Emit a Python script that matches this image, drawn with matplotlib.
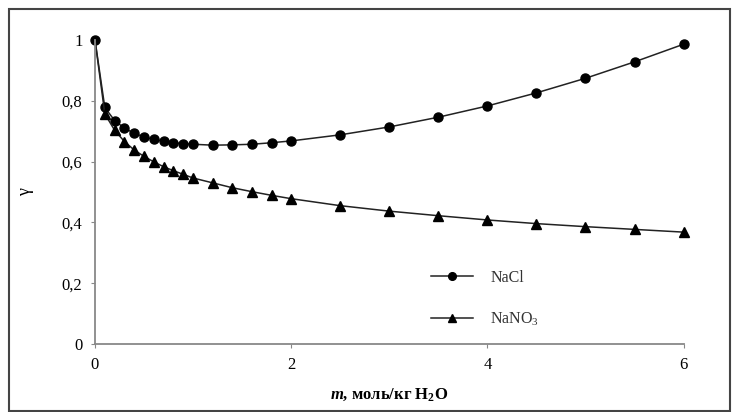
import matplotlib.pyplot as plt
from matplotlib.patches import Rectangle

# molality, mol/kg H2O
m = [0, 0.1, 0.2, 0.3, 0.4, 0.5, 0.6, 0.7, 0.8, 0.9, 1.0,
     1.2, 1.4, 1.6, 1.8, 2.0, 2.5, 3.0, 3.5, 4.0, 4.5, 5.0, 5.5, 6.0]

gamma_nacl = [1.0, 0.778, 0.735, 0.710, 0.693, 0.681, 0.673, 0.667, 0.662, 0.659, 0.657,
              0.654, 0.655, 0.657, 0.662, 0.668, 0.688, 0.714, 0.746, 0.783, 0.826,
              0.874, 0.928, 0.986]
gamma_nano3 = [1.0, 0.757, 0.703, 0.666, 0.638, 0.617, 0.599, 0.583, 0.570, 0.558, 0.546,
               0.530, 0.514, 0.501, 0.489, 0.478, 0.455, 0.437, 0.422, 0.408, 0.396,
               0.386, 0.377, 0.368]

xticks = [0, 2, 4, 6]
yticks = [0, 0.2, 0.4, 0.6, 0.8, 1.0]
ytick_labels = ['0', '0,2', '0,4', '0,6', '0,8', '1']

plt.rcParams['font.family'] = ['Liberation Serif', 'DejaVu Serif']
plt.rcParams['mathtext.fontset'] = 'custom'
plt.rcParams['mathtext.rm'] = 'Liberation Serif'
plt.rcParams['mathtext.it'] = 'Liberation Serif:italic:bold'
plt.rcParams['mathtext.bf'] = 'Liberation Serif:bold'

fig = plt.figure(figsize=(7.33, 4.12), dpi=100)
ax = fig.add_axes([0.1296, 0.165, 0.803, 0.738])

ax.plot(m, gamma_nacl, color='#222222', lw=1.1, marker='o', ms=6.5,
        mfc='black', mec='black', label='NaCl', clip_on=False)
# the first NaNO3 point sits under the NaCl circle at (0, 1)
ax.plot(m, gamma_nano3, color='#222222', lw=1.1, marker='^', ms=6.5,
        mfc='black', mec='black', label='NaNO$_3$', clip_on=False,
        markevery=list(range(1, len(m))))

ax.set_xlim(0, 6)
ax.set_ylim(0, 1)
ax.set_xticks(xticks)
ax.set_xticklabels([str(t) for t in xticks])
ax.set_yticks(yticks)
ax.set_yticklabels(ytick_labels)
ax.tick_params(labelsize=12, length=3, color='#888888', pad=6)

for s in ['top', 'right']:
    ax.spines[s].set_visible(False)
for s in ['left', 'bottom']:
    ax.spines[s].set_color('#888888')
    ax.spines[s].set_linewidth(1.3)

ax.set_ylabel('γ', fontsize=13, labelpad=20)
ax.set_xlabel('$\\mathit{m}$, моль/кг H$_\\mathbf{2}$O', fontsize=12,
              fontweight='bold', labelpad=10)

leg = ax.legend(loc='lower left', bbox_to_anchor=(0.547, 0.005), frameon=False,
                fontsize=11.5, handlelength=2.6, handletextpad=1.1,
                labelspacing=1.55, markerscale=0.85)
for t in leg.get_texts():
    t.set_color('#333333')

fig.patches.append(Rectangle((9 / 733, 0.002), 721 / 733, 0.976,
                             transform=fig.transFigure, fill=False,
                             edgecolor='#444444', lw=1.5))

fig.savefig('out.png', dpi=100)
